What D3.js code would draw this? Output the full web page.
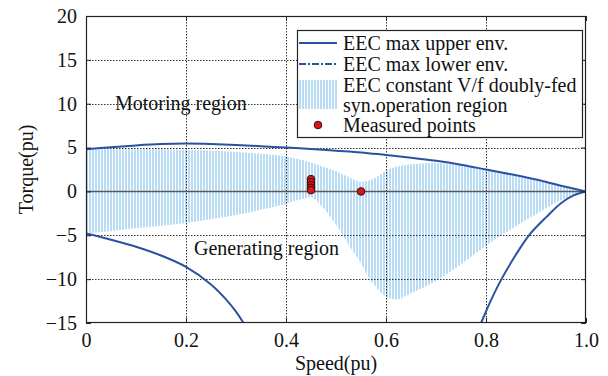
<!DOCTYPE html>
<html><head><meta charset="utf-8">
<script src="https://cdn.jsdelivr.net/npm/d3@7"></script>
<style>body{margin:0;background:#fff}svg{display:block}text{font-family:"Liberation Serif","Times New Roman",serif;fill:#111}</style>
</head><body><svg id="c" width="608" height="376"></svg>
<script>
// ---- data ----
const xTicks = [0, 0.2, 0.4, 0.6, 0.8, 1.0];
const xTickLabels = ["0", "0.2", "0.4", "0.6", "0.8", "1.0"];
const yTicks = [20, 15, 10, 5, 0, -5, -10, -15];
const yTickLabels = ["20", "15", "10", "5", "0", "\u22125", "\u221210", "\u221215"];

const upperEnvSpeed  = [0, 0.05, 0.1, 0.15, 0.2, 0.25, 0.3, 0.35, 0.4, 0.45, 0.5, 0.55, 0.6, 0.65, 0.7, 0.75, 0.8, 0.85, 0.9, 0.95, 1.0];
const upperEnvTorque = [4.8, 5.05, 5.25, 5.4, 5.45, 5.4, 5.3, 5.15, 5.0, 4.85, 4.65, 4.45, 4.15, 3.85, 3.5, 3.05, 2.5, 1.95, 1.35, 0.65, 0];

const lowerEnvLeftSpeed  = [0, 0.05, 0.1, 0.15, 0.2, 0.25, 0.28, 0.3, 0.315, 0.33];
const lowerEnvLeftTorque = [-4.8, -5.5, -6.3, -7.3, -8.6, -10.6, -12.3, -13.7, -15, -16.5];
const lowerEnvRightSpeed  = [0.775, 0.79, 0.81, 0.831, 0.86, 0.886, 0.921, 0.95, 0.975, 1.0];
const lowerEnvRightTorque = [-16.8, -15, -12.4, -10, -7.2, -5, -2.9, -1.35, -0.45, 0];

const regionSpeed = [0, 0.1, 0.2, 0.3, 0.35, 0.4, 0.43, 0.45, 0.47, 0.5, 0.53, 0.55, 0.56, 0.58, 0.6, 0.62, 0.65, 0.7, 0.75, 0.8, 0.85, 0.9, 0.95, 1.0];
const regionTop    = [4.8, 4.8, 4.75, 4.5, 4.3, 4.0, 3.6, 3.3, 2.9, 2.3, 1.5, 1.1, 1.2, 1.6, 2.4, 2.8, 3.1, 3.25, 3.0, 2.45, 1.9, 1.3, 0.6, 0];
const regionBottom = [-4.8, -4.2, -3.6, -2.7, -2.1, -1.4, -0.9, -0.7, -1.6, -3.8, -6.5, -8.2, -9.3, -10.9, -12.0, -12.3, -11.6, -10.2, -8.3, -6.2, -4.3, -2.6, -1.0, 0];

const measuredSpeed  = [0.45, 0.45, 0.45, 0.45, 0.45, 0.55];
const measuredTorque = [1.4, 1.05, 0.7, 0.4, 0.15, 0];

const legendLabels = ["EEC max upper env.", "EEC max lower env.", "EEC constant V/f doubly-fed", "syn.operation region", "Measured points"];
const annotations = [{t:"Motoring region", s:0.058, v:9.3}, {t:"Generating region", s:0.216, v:-7.2}];

// ---- chart ----
const svg = d3.select("#c");
const L = 86, R = 586, T = 16, B = 323;
const x = d3.scaleLinear().domain([0, 1]).range([L, R]);
const y = d3.scaleLinear().domain([-15, 20]).range([B, T]);
const blue = "#2a52a0";

const defs = svg.append("defs");
defs.append("clipPath").attr("id", "clip").append("rect")
  .attr("x", L).attr("y", T).attr("width", R - L).attr("height", B - T);
const pat = defs.append("pattern").attr("id", "hatch").attr("patternUnits", "userSpaceOnUse")
  .attr("width", 3).attr("height", 10).attr("x", L);
pat.append("rect").attr("x", 0).attr("y", 0).attr("width", 2).attr("height", 10).attr("fill", "#b8dcf6");

const plot = svg.append("g").attr("clip-path", "url(#clip)");

// shaded region
const regionData = regionSpeed.map((s, i) => ({s, top: regionTop[i], bot: regionBottom[i]}));
plot.append("path").datum(regionData)
  .attr("d", d3.area().x(d => x(d.s)).y0(d => y(d.bot)).y1(d => y(d.top)).curve(d3.curveMonotoneX))
  .attr("fill", "url(#hatch)");

// grid
const gridY = yTicks.filter(v => v !== 0 && v !== 20 && v !== -15);
const gridX = xTicks.slice(1, -1);
const gg = svg.append("g");
gridY.forEach(v => {
  gg.append("line").attr("x1", L).attr("x2", R).attr("y1", Math.round(y(v)) + 0.5).attr("y2", Math.round(y(v)) + 0.5)
    .attr("stroke", "#333").attr("stroke-width", 1).attr("stroke-dasharray", "1.5,1.5");
});
gridX.forEach(v => {
  gg.append("line").attr("y1", T).attr("y2", B).attr("x1", Math.round(x(v)) + 0.5).attr("x2", Math.round(x(v)) + 0.5)
    .attr("stroke", "#333").attr("stroke-width", 1).attr("stroke-dasharray", "1.5,1.5");
});
// zero line
svg.append("line").attr("x1", L).attr("x2", R).attr("y1", y(0)).attr("y2", y(0))
  .attr("stroke", "#5a5a5a").attr("stroke-width", 1.5);

// curves
const line = d3.line().x(d => x(d[0])).y(d => y(d[1])).curve(d3.curveCatmullRom);
const plot2 = svg.append("g").attr("clip-path", "url(#clip)");
plot2.append("path").datum(upperEnvSpeed.map((s, i) => [s, upperEnvTorque[i]]))
  .attr("d", line).attr("fill", "none").attr("stroke", blue).attr("stroke-width", 2);
plot2.append("path").datum(lowerEnvLeftSpeed.map((s, i) => [s, lowerEnvLeftTorque[i]]))
  .attr("d", line).attr("fill", "none").attr("stroke", blue).attr("stroke-width", 2);
plot2.append("path").datum(lowerEnvRightSpeed.map((s, i) => [s, lowerEnvRightTorque[i]]))
  .attr("d", line).attr("fill", "none").attr("stroke", blue).attr("stroke-width", 2);

// measured points
plot2.selectAll(".mp").data(measuredSpeed.map((s, i) => [s, measuredTorque[i]])).enter().append("circle")
  .attr("cx", d => x(d[0])).attr("cy", d => y(d[1])).attr("r", 3.8)
  .attr("fill", "#d81818").attr("stroke", "#3a0a0a").attr("stroke-width", 1);

// annotations
svg.selectAll(".ann").data(annotations).enter().append("text")
  .attr("x", d => x(d.s)).attr("y", d => y(d.v)).attr("font-size", 20).text(d => d.t);

// frame
svg.append("rect").attr("x", L + 0.5).attr("y", T + 0.5).attr("width", R - L - 1).attr("height", B - T - 1)
  .attr("fill", "none").attr("stroke", "#222").attr("stroke-width", 1.2);

// axes (inward ticks)
const ax = d3.axisBottom(x).tickValues(xTicks).tickSize(-5).tickFormat((d, i) => xTickLabels[i]).tickPadding(10);
const gx = svg.append("g").attr("transform", `translate(0,${B})`).call(ax);
const ay = d3.axisLeft(y).tickValues(yTicks).tickSize(-5).tickFormat((d, i) => yTickLabels[i]).tickPadding(9);
const gy = svg.append("g").attr("transform", `translate(${L},0)`).call(ay);
svg.append("g").attr("transform", `translate(0,${T})`).call(d3.axisTop(x).tickValues(xTicks).tickSize(-5).tickFormat(""));
svg.append("g").attr("transform", `translate(${R},0)`).call(d3.axisRight(y).tickValues(yTicks).tickSize(-5).tickFormat(""));
svg.selectAll(".domain").remove();
svg.selectAll(".tick line").attr("stroke", "#222");
[gx, gy].forEach(g => g.selectAll("text").attr("font-size", 20).attr("font-family", "Liberation Serif").attr("fill", "#111"));

// axis titles
svg.append("text").attr("x", (L + R) / 2).attr("y", 370).attr("text-anchor", "middle").attr("font-size", 20).text("Speed(pu)");
svg.append("text").attr("transform", `translate(33,${(T + B) / 2}) rotate(-90)`).attr("text-anchor", "middle").attr("font-size", 20).text("Torque(pu)");

// legend
const lg = svg.append("g");
lg.append("rect").attr("x", 297.5).attr("y", 30.5).attr("width", 285).attr("height", 107)
  .attr("fill", "#fff").attr("stroke", "#222").attr("stroke-width", 1.2);
const rowY = [43, 64, 85, 105, 125];
lg.append("line").attr("x1", 299).attr("x2", 337).attr("y1", rowY[0]).attr("y2", rowY[0]).attr("stroke", blue).attr("stroke-width", 2);
lg.append("line").attr("x1", 299).attr("x2", 337).attr("y1", rowY[1]).attr("y2", rowY[1]).attr("stroke", blue).attr("stroke-width", 2.2).attr("stroke-dasharray", "7,2,2,2");
lg.append("rect").attr("x", 299).attr("y", 80).attr("width", 38).attr("height", 29).attr("fill", "url(#hatch)");
lg.append("circle").attr("cx", 318).attr("cy", rowY[4]).attr("r", 3.8).attr("fill", "#d81818").attr("stroke", "#3a0a0a");
lg.selectAll(".lt").data(legendLabels).enter().append("text")
  .attr("x", 343).attr("y", (d, i) => rowY[i] + 7).attr("font-size", 20).text(d => d);
</script></body></html>
